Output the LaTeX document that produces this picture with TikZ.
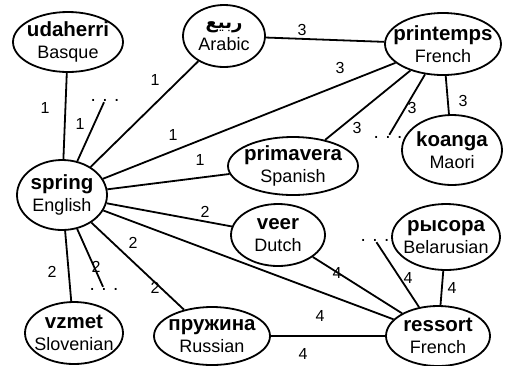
\documentclass[tikz,border=0pt]{standalone}
\usepackage{fontspec}
\setmainfont{Liberation Sans}
\newfontfamily\arabicfont[Script=Arabic]{DejaVu Sans}
\TeXXeTstate=1
\usetikzlibrary{shapes.geometric}
\newcommand{\wordtxt}[1]{{\bfseries\fontsize{20.5}{22}\selectfont #1}}
\begin{document}
\begin{tikzpicture}[x=1pt,y=-1pt,
  ell/.style={ellipse,draw,line width=1.8pt,inner sep=0pt},
  txt/.style={inner sep=0pt,align=center,font=\fontsize{18}{22}\selectfont},
  edge/.style={line width=1.8pt},
  num/.style={font=\fontsize{16}{16}\selectfont,inner sep=0pt},
  dotsn/.style={font=\fontsize{19}{19}\selectfont,inner sep=1pt}]
\useasboundingbox (0,0) rectangle (505,365);
\node[ell,minimum width=110,minimum height=60] (uda) at (68,42) {};
\node[txt] (udat) at (uda) {\wordtxt{udaherri}\\Basque};
\node[ell,minimum width=82,minimum height=62] (ara) at (224,36) {};
\node[txt] (arat) at (ara) {{\arabicfont\bfseries\fontsize{18}{22}\selectfont\beginR ربيع\endR}\\Arabic};
\node[ell,minimum width=116,minimum height=62] (pri) at (443,44) {};
\node[txt] (prit) at (pri) {\wordtxt{printemps}\\French};
\node[ell,minimum width=100,minimum height=70] (koa) at (452,150) {};
\node[txt] (koat) at (koa) {\wordtxt{koanga}\\Maori};
\node[ell,minimum width=130,minimum height=58] (pma) at (293,166) {};
\node[txt] (pmat) at (pma) {\wordtxt{primavera}\\Spanish};
\node[ell,minimum width=90,minimum height=70] (spr) at (62,195) {};
\node[txt] (sprt) at (spr) {\wordtxt{spring}\\English};
\node[ell,minimum width=94,minimum height=62] (vee) at (278,235) {};
\node[txt] (veet) at (vee) {\wordtxt{veer}\\Dutch};
\node[ell,minimum width=108,minimum height=66] (rys) at (446,237) {};
\node[txt] (ryst) at (rys) {\wordtxt{рысора}\\Belarusian};
\node[ell,minimum width=104,minimum height=60] (res) at (438,336) {};
\node[txt] (rest) at (res) {\wordtxt{ressort}\\French};
\node[ell,minimum width=98,minimum height=62] (vzm) at (74,333) {};
\node[txt] (vzmt) at (vzm) {\wordtxt{vzmet}\\Slovenian};
\node[ell,minimum width=116,minimum height=58] (pru) at (212,336) {};
\node[txt] (prut) at (pru) {\wordtxt{пружина}\\Russian};
\node[dotsn] (d1) at (105,100) {.\hspace{6.5pt}.\hspace{6.5pt}.};
\node[dotsn] (d2) at (388,137) {.\hspace{6.5pt}.\hspace{6.5pt}.};
\node[dotsn] (d3) at (104,289) {.\hspace{6.5pt}.\hspace{6.5pt}.};
\node[dotsn] (d4) at (375,240) {.\hspace{6.5pt}.\hspace{6.5pt}.};
\draw[edge] (uda) -- (spr);
\draw[edge] (spr) -- (d1);
\draw[edge] (spr) -- (ara);
\draw[edge] (spr) -- (pri);
\draw[edge] (spr) -- (pma);
\draw[edge] (ara) -- (pri);
\draw[edge] (pri) -- (pma);
\draw[edge] (pri) -- (d2);
\draw[edge] (pri) -- (koa);
\draw[edge] (spr) -- (vee);
\draw[edge] (spr) -- (res);
\draw[edge] (spr) -- (vzm);
\draw[edge] (spr) -- (d3);
\draw[edge] (spr) -- (pru);
\draw[edge] (vee) -- (res);
\draw[edge] (d4) -- (res);
\draw[edge] (rys) -- (res);
\draw[edge] (pru) -- (res);
\node[num] (l1) at (45,108) {1};
\node[num] (l2) at (80,124) {1};
\node[num] (l3) at (155,80) {1};
\node[num] (l4) at (173,135) {1};
\node[num] (l5) at (200,160) {1};
\node[num] (l6) at (302,30) {3};
\node[num] (l7) at (340,68) {3};
\node[num] (l8) at (357,128) {3};
\node[num] (l9) at (412,108) {3};
\node[num] (l10) at (463,101) {3};
\node[num] (l11) at (205,212) {2};
\node[num] (l12) at (133,243) {2};
\node[num] (l13) at (320,316) {4};
\node[num] (l14) at (52,272) {2};
\node[num] (l15) at (96,267) {2};
\node[num] (l16) at (155,288) {2};
\node[num] (l17) at (337,273) {4};
\node[num] (l18) at (408,278) {4};
\node[num] (l19) at (452,288) {4};
\node[num] (l20) at (303,354) {4};
\end{tikzpicture}
\end{document}
